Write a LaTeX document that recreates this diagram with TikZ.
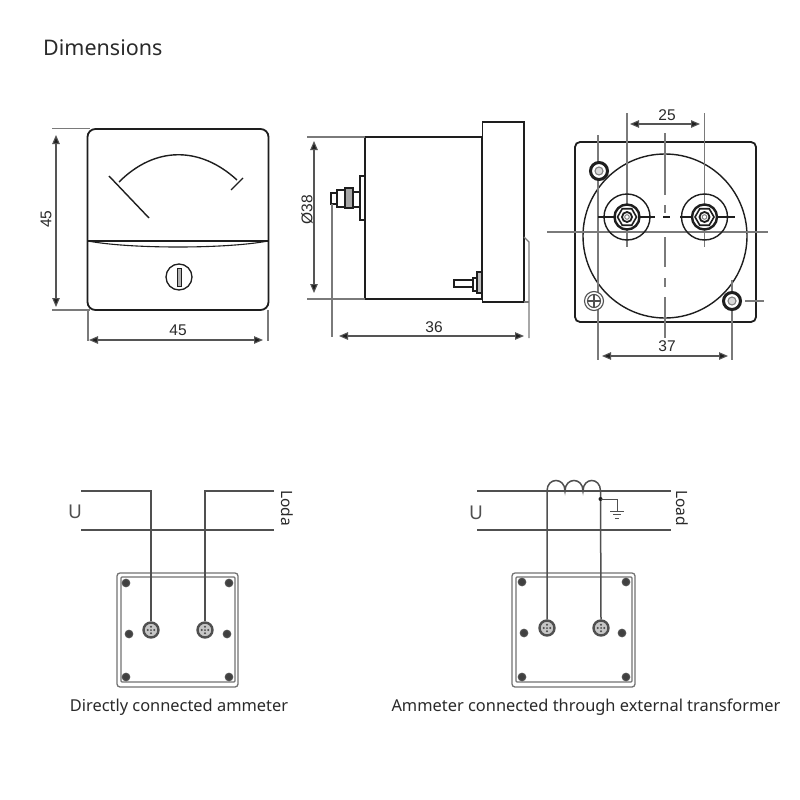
\documentclass[tikz,border=0pt]{standalone}
\usepackage{fontspec}
\setmainfont{Noto Sans}
\newfontfamily\dimfont{Liberation Sans}
\usetikzlibrary{arrows.meta,shapes.geometric}
\definecolor{ink}{HTML}{1E1E1E}
\definecolor{dimgray}{HTML}{7A7A7A}
\definecolor{wire}{HTML}{505050}
\definecolor{txt}{HTML}{2A2A2A}
\tikzset{
  outline/.style={draw=ink,line width=1.8pt},
  thinline/.style={draw=ink,line width=1.1pt},
  dimext/.style={draw=dimgray,line width=1.1pt},
  centerline/.style={draw=dimgray,line width=1.3pt},
  dimarrow/.style={draw=dimgray!70!black,line width=1.1pt,{Triangle[length=9pt,width=7.5pt,fill=ink]}-{Triangle[length=9pt,width=7.5pt,fill=ink]}},
  dimlabel/.style={text=txt,font=\dimfont\fontsize{15.5}{17}\selectfont,inner sep=0pt},
  wireline/.style={draw=wire,line width=1.5pt},
  caption/.style={text=txt,font=\fontsize{16.4}{19}\selectfont,inner sep=0pt},
  sidelabel/.style={text=txt,rotate=-90,font=\fontsize{15.5}{18}\selectfont,inner sep=0pt},
  symbol/.style={text=wire,font=\fontsize{19}{21}\selectfont,inner sep=0pt},
  screw/.style={circle,draw=wire,fill=ink!85,line width=1.1pt,minimum size=7.5pt,inner sep=0pt},
  terminal/.style={circle,draw=wire,fill=gray!45,line width=2.4pt,minimum size=15pt,inner sep=0pt},
  panelouter/.style={draw=wire!80,line width=1.3pt,rounded corners=3pt},
  panelinner/.style={draw=wire!80,line width=1.3pt,rounded corners=1pt},
}
\newcommand{\termdots}[1]{%
  \foreach \da in {0,90,180,270}{\fill[ink!80] (#1)++(\da:3.2pt) circle (1.1pt);}%
  \fill[ink!80] (#1) circle (1pt);}
\begin{document}
\begin{tikzpicture}[x=1pt,y=-1pt]
\useasboundingbox (0,0) rectangle (800,800);
\fill[white] (0,0) rectangle (800,800);
\node[anchor=west,inner sep=0pt,text=txt,font=\fontsize{21.5}{25}\selectfont] (title) at (43,48) {Dimensions};

% ---- front view
\draw[outline,rounded corners=8pt] (87.5,129) rectangle (268.5,310);
\draw[outline] (87.5,240.7) -- (268.5,240.7);
\draw[thinline] (88,241) .. controls (130,249) and (226,249) .. (268,241);
\draw[thinline,line width=1.4pt] (119,182) .. controls (155,146) and (200,146) .. (237,180);
\draw[thinline,line width=1.4pt] (109,176) -- (149,218);
\draw[thinline,line width=1.4pt] (243,178) -- (231,190);
\node[circle,draw=ink,line width=1.3pt,minimum size=26pt,inner sep=0pt] (knob) at (179,277) {};
\draw[draw=ink,fill=gray!60,line width=.8pt] (177.3,268) rectangle (181,286);
\coordinate (fa) at (52,128.5); \coordinate (fb) at (90,128.5);
\coordinate (fc) at (52,310); \coordinate (fd) at (90,310);
\draw[dimext] (fa) -- (fb);
\draw[dimext] (fc) -- (fd);
\draw[dimext] (88,310) -- (88,341);
\draw[dimext] (268,310) -- (268,341);
\draw[dimarrow] (56,135) -- (56,307);
\draw[dimarrow] (89,340) -- (263,340);
\node[dimlabel,rotate=90] (l45a) at (46,219) {45};
\node[dimlabel] (l45b) at (178,330.5) {45};

% ---- side view
\draw[outline] (365,137) rectangle (482,299);
\draw[outline] (482.5,122) rectangle (524,302);
\draw[thinline] (360,176) rectangle (365,220);
\draw[thinline] (331,193) rectangle (337,204);
\draw[thinline] (337,190) rectangle (345,207);
\draw[thinline,fill=gray!70] (345,188) rectangle (353,208);
\draw[thinline] (353,192) rectangle (360,207);
\draw[thinline] (454,280) rectangle (473,287);
\draw[thinline] (473,278) rectangle (477,291);
\draw[thinline,fill=gray!50] (477,272) rectangle (482,293);
\draw[dimext] (307,137) -- (365,137);
\draw[dimext] (307,299) -- (365,299);
\draw[dimext] (332,204) -- (332,337);
\draw[dimext] (524,237) -- (529,242) -- (529,338);
\draw[dimext] (524,302) -- (529,302);
\draw[dimarrow] (314,141) -- (314,293);
\draw[dimarrow] (339,336) -- (524,336);
\node[dimlabel,rotate=90] (l38) at (307,210) {Ø38};
\node[dimlabel] (l36) at (434,327.5) {36};

% ---- rear view
\draw[outline,rounded corners=5pt] (575,142) rectangle (756,322);
\draw[thinline,line width=1.4pt] (665,236) circle (82);
\draw[centerline] (547,232) -- (768,232);
\draw[centerline] (665,133) -- (665,195);
\draw[centerline] (665,205) -- (665,213);
\draw[centerline] (665,237) -- (665,267);
\draw[centerline] (665,278) -- (665,287);
\draw[centerline] (665,297) -- (665,338);
\draw[centerline] (627,113) -- (627,247);
\draw[centerline] (704.5,113) -- (704.5,247);
\draw[centerline] (598,135) -- (598,360);
\draw[centerline] (732,280) -- (732,360);
\draw[centerline] (745,301) -- (764,301);
\draw[thinline] (598,217) -- (655,217);
\draw[thinline] (663,217) -- (670,217);
\draw[thinline] (680,217) -- (735,217);
\foreach \n/\cx in {ra/627,rb/704.5}{
  \coordinate (\n) at (\cx,217);
  \draw[thinline,line width=1.4pt] (\n) circle (23);
  \draw[thinline,line width=2.4pt,fill=white] (\n) circle (12.5);
  \node[regular polygon,regular polygon sides=6,draw=ink,fill=white,line width=1.6pt,minimum size=19pt,inner sep=0pt] at (\n) {};
  \draw[thinline,line width=1.8pt,fill=white] (\n) circle (5);
  \draw[thinline,draw=gray,line width=1pt] (\n) circle (2.3);
}
\draw[thinline,line width=3pt,fill=white] (599,171) circle (8.5);
\draw[thinline,fill=gray!30,draw=gray] (599,171) circle (4);
\draw[thinline,line width=3pt,fill=white] (732,301) circle (8.5);
\draw[thinline,fill=gray!30,draw=gray] (732,301) circle (4);
\draw[draw=wire,fill=white,line width=1.1pt] (594,301) circle (9.5);
\draw[draw=wire,line width=1.1pt] (594,301) circle (6.5);
\draw[draw=wire,line width=1.1pt] (587.5,301) -- (600.5,301) (594,294.5) -- (594,307.5);
\draw[dimarrow] (630,124) -- (700,124);
\draw[dimarrow] (602,356) -- (728,356);
\node[dimlabel] (l25) at (667,115) {25};
\node[dimlabel] (l37) at (667,346) {37};

% ---- wiring left
\draw[panelouter] (117,573) rectangle (238,687);
\draw[panelinner] (121,577) rectangle (235,682);
\foreach \n/\p in {sa/{126,583},sb/{229,583},sc/{129,634},sd/{227,634},se/{126,677},sf/{229,677}}{
  \node[screw] (\n) at (\p) {};
}
\node[terminal] (ta) at (151,630) {};
\node[terminal] (tb) at (205,630) {};
\termdots{ta}\termdots{tb}
\coordinate (w1) at (81,491); \coordinate (w2) at (274,491);
\coordinate (w3) at (81,530); \coordinate (w4) at (274,530);
\draw[wireline] (w1) -| (ta.north);
\draw[wireline] (w2) -| (tb.north);
\draw[wireline] (w3) -- (w4);
\node[symbol] (ua) at (75,512) {U};
\node[sidelabel] (loda) at (287,508) {Loda};
\node[caption] (capa) at (179,707) {Directly connected ammeter};

% ---- wiring right
\draw[panelouter] (512,573) rectangle (635,687);
\draw[panelinner] (516,577) rectangle (632,682);
\foreach \n/\p in {ua1/{522,582},ub1/{626,582},uc1/{524,633},ud1/{622,633},ue1/{522,677},uf1/{626,677}}{
  \node[screw] (\n) at (\p) {};
}
\node[terminal] (tc) at (547,628) {};
\node[terminal] (td) at (601,628) {};
\termdots{tc}\termdots{td}
\coordinate (v1) at (477,491); \coordinate (v2) at (671,491);
\coordinate (v3) at (477,530); \coordinate (v4) at (671,530);
\coordinate (c0) at (547,491); \coordinate (c1) at (565,491); \coordinate (c2) at (583,491); \coordinate (c3) at (600.5,491);
\draw[wireline] (v1) -- (v2);
\draw[wireline] (v3) -- (v4);
\draw[wireline] (tc.north) -- (c0) .. controls (547,477) and (565,477) .. (c1) .. controls (565,477) and (583,477) .. (c2) .. controls (583,477) and (600.5,477) .. (c3) -- (td.north);
\coordinate (gd) at (600.5,499);
\fill[ink] (gd) circle (2);
\draw[wireline,line width=1pt] (gd) -- (617,499) -- (617,511);
\draw[wireline,line width=1pt] (610,511) -- (624,511);
\draw[wireline,line width=1pt] (613,514.5) -- (621,514.5);
\draw[wireline,line width=1pt] (615,518) -- (619,518);
\node[symbol] (ub) at (476,513) {U};
\node[sidelabel] (load) at (682,508) {Load};
\node[caption] (capb) at (586,707) {Ammeter connected through external transformer};
\end{tikzpicture}
\end{document}
